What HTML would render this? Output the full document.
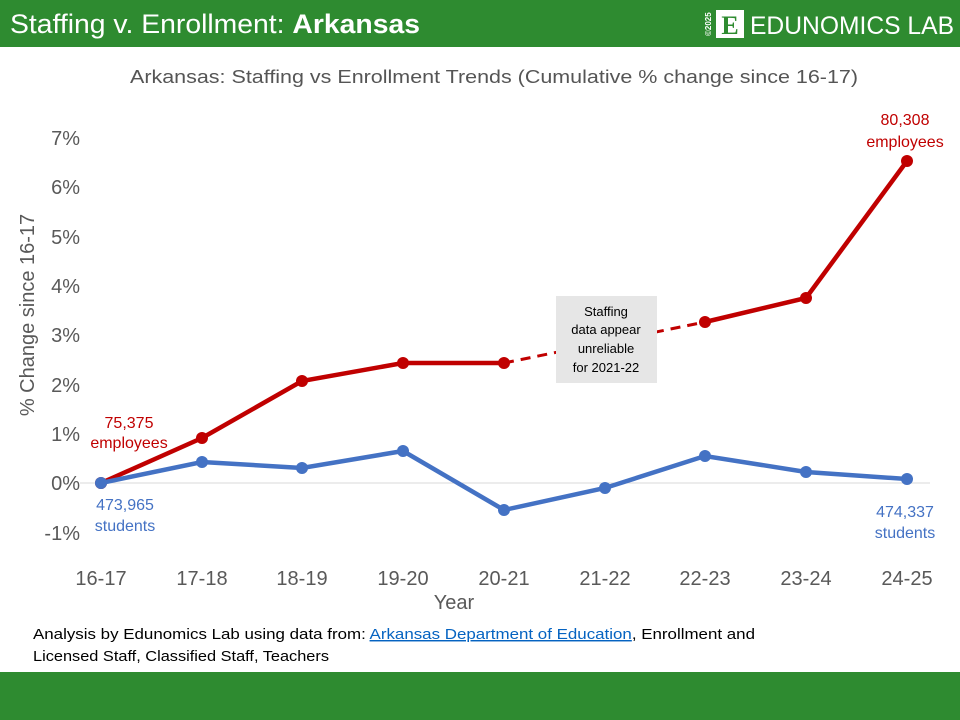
<!DOCTYPE html>
<html><head><meta charset="utf-8"><style>
body{margin:0;width:960px;height:720px;background:#fff;font-family:"Liberation Sans",sans-serif;position:relative;overflow:hidden}
.bar{position:absolute;left:0;width:960px;background:#2e8b30}
</style></head><body>
<div class="bar" style="top:0;height:47px"></div>
<div class="bar" style="top:672px;height:48px"></div>
<svg width="960" height="720" style="position:absolute;left:0;top:0" font-family="Liberation Sans, sans-serif">
<text x="10" y="33" fill="#fff" font-size="27" textLength="410" lengthAdjust="spacingAndGlyphs">Staffing v. Enrollment: <tspan font-weight="bold">Arkansas</tspan></text>
<text transform="translate(711,36) rotate(-90)" fill="#fff" font-size="8" font-weight="bold">©2025</text>
<rect x="716" y="10" width="28" height="28" fill="#fff"/>
<text x="730" y="34" fill="#2e8b30" font-size="26" font-weight="bold" text-anchor="middle" font-family="Liberation Serif, serif">E</text>
<text x="750" y="34" fill="#fff" font-size="25" textLength="204" lengthAdjust="spacingAndGlyphs">EDUNOMICS LAB</text>
<text x="130" y="83" fill="#555" font-size="18" textLength="728" lengthAdjust="spacingAndGlyphs">Arkansas: Staffing vs Enrollment Trends (Cumulative % change since 16-17)</text>
<line x1="80" x2="930" y1="483" y2="483" stroke="#d9d9d9"/>
<g fill="#595959" font-size="20" text-anchor="end">
<text x="80" y="145">7%</text><text x="80" y="194">6%</text><text x="80" y="244">5%</text><text x="80" y="293">4%</text><text x="80" y="342">3%</text><text x="80" y="392">2%</text><text x="80" y="441">1%</text><text x="80" y="490">0%</text><text x="80" y="540">-1%</text>
</g>
<g fill="#595959" font-size="20" text-anchor="middle">
<text x="101" y="585">16-17</text><text x="202" y="585">17-18</text><text x="302" y="585">18-19</text><text x="403" y="585">19-20</text><text x="504" y="585">20-21</text><text x="605" y="585">21-22</text><text x="705" y="585">22-23</text><text x="806" y="585">23-24</text><text x="907" y="585">24-25</text>
<text x="454" y="609">Year</text>
<text transform="translate(34,315) rotate(-90)">% Change since 16-17</text>
</g>
<polyline points="101,483 202,438 302,381 403,363 504,363" fill="none" stroke="#c00000" stroke-width="4.5"/>
<line x1="504" y1="363" x2="705" y2="322" stroke="#c00000" stroke-width="3" stroke-dasharray="10,7"/>
<polyline points="705,322 806,298 907,161" fill="none" stroke="#c00000" stroke-width="4.5"/>
<g fill="#c00000"><circle cx="101" cy="483" r="6"/><circle cx="202" cy="438" r="6"/><circle cx="302" cy="381" r="6"/><circle cx="403" cy="363" r="6"/><circle cx="504" cy="363" r="6"/><circle cx="705" cy="322" r="6"/><circle cx="806" cy="298" r="6"/><circle cx="907" cy="161" r="6"/></g>
<polyline points="101,483 202,462 302,468 403,451 504,510 605,488 705,456 806,472 907,479" fill="none" stroke="#4472c4" stroke-width="4.5"/>
<g fill="#4472c4"><circle cx="101" cy="483" r="6"/><circle cx="202" cy="462" r="6"/><circle cx="302" cy="468" r="6"/><circle cx="403" cy="451" r="6"/><circle cx="504" cy="510" r="6"/><circle cx="605" cy="488" r="6"/><circle cx="705" cy="456" r="6"/><circle cx="806" cy="472" r="6"/><circle cx="907" cy="479" r="6"/></g>
<rect x="556" y="296" width="101" height="87" fill="#e6e6e6"/>
<g font-size="13" fill="#000" text-anchor="middle"><text x="606" y="316">Staffing</text><text x="606" y="334">data appear</text><text x="606" y="353">unreliable</text><text x="606" y="372">for 2021-22</text></g>
<g font-size="16" fill="#c00000" text-anchor="middle"><text x="129" y="428">75,375</text><text x="129" y="448">employees</text><text x="905" y="125">80,308</text><text x="905" y="147">employees</text></g>
<g font-size="16" fill="#4472c4" text-anchor="middle"><text x="125" y="510">473,965</text><text x="125" y="531">students</text><text x="905" y="517">474,337</text><text x="905" y="538">students</text></g>
<g font-size="14.5" fill="#000"><text x="33" y="639" textLength="722" lengthAdjust="spacingAndGlyphs">Analysis by Edunomics Lab using data from: <tspan fill="#0563c1" text-decoration="underline">Arkansas Department of Education</tspan>, Enrollment and</text><text x="33" y="661" textLength="296" lengthAdjust="spacingAndGlyphs">Licensed Staff, Classified Staff, Teachers</text></g>
</svg>
</body></html>
